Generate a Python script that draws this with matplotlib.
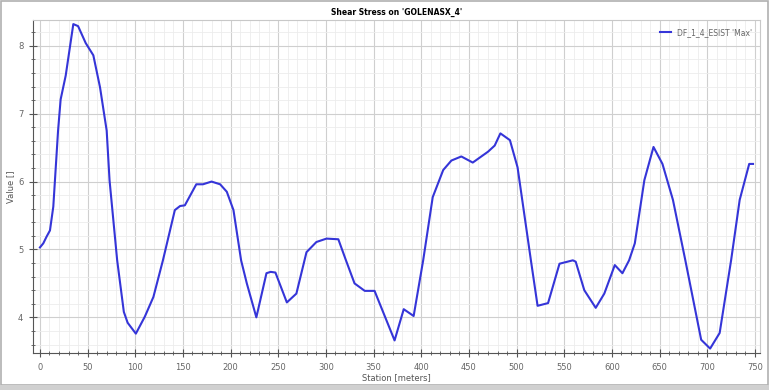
import matplotlib
matplotlib.use("Agg")
import matplotlib.pyplot as plt
from matplotlib.ticker import MultipleLocator
from matplotlib.patches import Rectangle

# station [m] and shear stress values
station = [0, 3.5, 7, 10.5, 14, 19, 21.7, 27, 35, 40, 48, 56, 63, 70, 73, 81, 88, 92,
           100.6, 110, 119, 129, 141.5, 147, 152, 164, 171, 180, 189, 196, 203, 211,
           217, 227, 237.6, 242, 247, 259, 269, 279.6, 290, 300.6, 313, 321, 330,
           340.7, 351, 372, 381.6, 392, 402, 412, 423, 431.6, 442, 454, 470, 477,
           483, 493, 501, 515, 522, 533, 545, 559, 562, 571, 583, 592, 603, 611,
           618, 624, 634, 643.6, 653, 664, 677, 693.6, 703, 713, 725, 734, 744, 748]
value = [5.03, 5.09, 5.19, 5.28, 5.63, 6.75, 7.21, 7.56, 8.32, 8.29, 8.04, 7.86, 7.39,
         6.75, 6.02, 4.84, 4.08, 3.92, 3.76, 4.01, 4.30, 4.84, 5.58, 5.64, 5.65, 5.96,
         5.96, 6.00, 5.96, 5.85, 5.58, 4.84, 4.50, 4.00, 4.65, 4.67, 4.66, 4.22, 4.35,
         4.96, 5.11, 5.16, 5.15, 4.84, 4.50, 4.39, 4.39, 3.66, 4.12, 4.02, 4.84, 5.77,
         6.17, 6.31, 6.37, 6.28, 6.44, 6.53, 6.71, 6.61, 6.21, 4.84, 4.17, 4.21, 4.79,
         4.84, 4.82, 4.40, 4.14, 4.35, 4.77, 4.65, 4.84, 5.09, 6.02, 6.51, 6.26, 5.73,
         4.84, 3.67, 3.54, 3.77, 4.84, 5.73, 6.26, 6.26]

fig = plt.figure(figsize=(7.69, 3.90), dpi=100)
ax = fig.add_axes([0.0429, 0.0949, 0.945, 0.8538])

ax.plot(station, value, color='#3535d8', lw=1.5, label="DF_1_4_ESIST 'Max'")

ax.set_xlim(-7.3, 755)
ax.set_ylim(3.475, 8.38)
ax.xaxis.set_major_locator(MultipleLocator(50))
ax.xaxis.set_minor_locator(MultipleLocator(10))
ax.yaxis.set_major_locator(MultipleLocator(1))
ax.yaxis.set_minor_locator(MultipleLocator(0.2))
ax.grid(which='major', color='#cfcfcf', lw=0.8)
ax.grid(which='minor', color='#ececec', lw=0.6)
ax.set_axisbelow(True)

for s in ax.spines.values():
    s.set_color('#c8c8c8')
ax.spines['left'].set_color('#555555')
ax.spines['bottom'].set_color('#555555')
ax.tick_params(which='major', direction='inout', length=6, width=0.8, colors='#555555',
               labelsize=6, labelcolor='#666666', pad=4)
ax.tick_params(which='minor', direction='inout', length=3, width=0.6, colors='#555555')

ax.set_title("Shear Stress on 'GOLENASX_4'", fontsize=5.5, fontweight='bold', pad=4)
ax.set_xlabel("Station [meters]", fontsize=6, color='#555555', labelpad=1)
ax.set_ylabel("Value []", fontsize=6, color='#555555', labelpad=2)

ax.legend(loc='upper right', frameon=False, fontsize=5.5, handlelength=1.4,
          labelcolor='#666666', borderaxespad=0.6)

# outer frame and bottom band like the application window
fig.patches.append(Rectangle((0.001, 0.012), 0.998, 0.985, transform=fig.transFigure,
                             fill=False, edgecolor='#b0b0b0', lw=1.2))
fig.patches.append(Rectangle((0, 0), 1, 0.012, transform=fig.transFigure,
                             facecolor='#d0d0d0', edgecolor='none'))

fig.savefig("out.png", dpi=100)
